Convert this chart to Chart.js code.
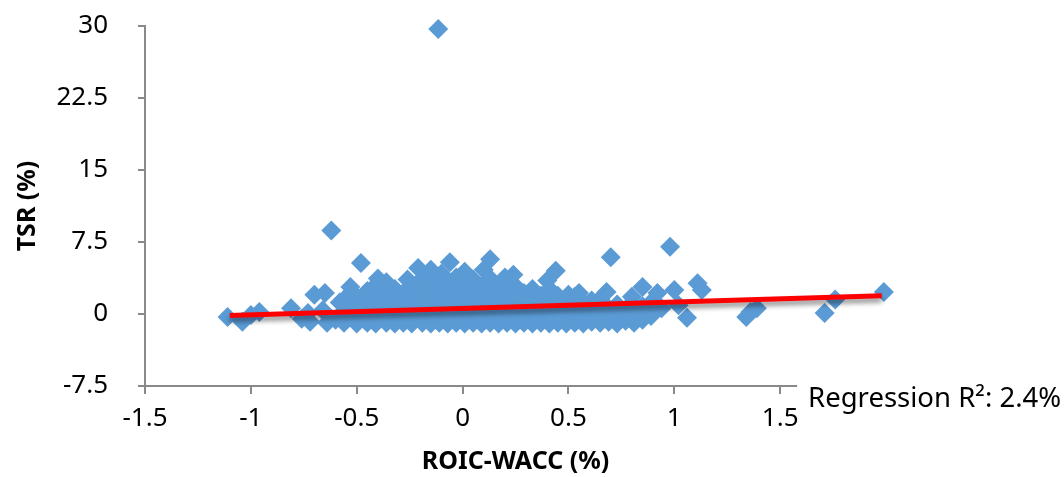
<!DOCTYPE html>
<html>
<head>
<meta charset="utf-8">
<script src="https://cdn.jsdelivr.net/npm/chart.js@4.4.0/dist/chart.umd.min.js"></script>
<style>
  body { margin: 0; background: #fff; }
</style>
</head>
<body>
<canvas id="scatter-chart" width="1064" height="477"></canvas>
<script>
// tick labels
var xTicks = [-1.5, -1, -0.5, 0, 0.5, 1, 1.5];
var yTicks = [-7.5, 0, 7.5, 15, 22.5, 30];

// [ROIC-WACC, TSR] per company
var companies = [
  [-1.11, -0.3], [-1.04, -0.8], [-1.00, -0.1], [-0.96, 0.2], [-0.81, 0.6], [-0.76, -0.5],
  [-0.73, 0.1], [-0.72, -0.8], [-0.70, 2.0], [-0.66, 0.4], [-0.65, 2.2], [-0.62, 8.7],
  [-0.64, -0.9], [-0.60, -0.6], [-0.58, 1.2],
  [-0.56, -0.9], [-0.56, 0.3], [-0.56, 1.5], [-0.53, 2.8],
  [-0.50, -1.0], [-0.50, 0.5], [-0.50, 1.8], [-0.48, 5.3],
  [-0.45, -0.9], [-0.45, 0.8], [-0.45, 2.4],
  [-0.41, -1.0], [-0.41, 0.4], [-0.41, 1.6], [-0.41, 3.0], [-0.40, 3.7],
  [-0.36, -0.9], [-0.36, 0.6], [-0.36, 2.0], [-0.36, 3.3],
  [-0.32, -1.0], [-0.32, 0.2], [-0.32, 1.4], [-0.32, 2.6],
  [-0.28, -0.9], [-0.28, 0.8], [-0.28, 2.2], [-0.26, 3.6],
  [-0.24, -1.0], [-0.24, 0.4], [-0.24, 1.6], [-0.24, 2.9], [-0.21, 4.8],
  [-0.19, -0.9], [-0.19, 0.9], [-0.19, 2.3], [-0.19, 3.7],
  [-0.15, -1.0], [-0.15, 0.3], [-0.15, 1.6], [-0.15, 3.0], [-0.15, 4.6],
  [-0.11, -0.9], [-0.11, 0.8], [-0.11, 2.2], [-0.11, 3.6], [-0.10, 4.2],
  [-0.07, -1.0], [-0.07, 0.4], [-0.07, 1.6], [-0.07, 2.9], [-0.06, 5.4],
  [-0.03, -0.9], [-0.03, 0.9], [-0.03, 2.3], [-0.03, 3.8],
  [0.01, -1.0], [0.01, 0.3], [0.01, 1.6], [0.01, 3.0], [0.01, 4.4],
  [0.05, -0.9], [0.05, 0.8], [0.05, 2.2], [0.05, 3.6],
  [0.09, -1.0], [0.09, 0.4], [0.09, 1.6], [0.09, 2.9], [0.10, 4.6],
  [0.13, -0.9], [0.13, 0.9], [0.13, 2.3], [0.13, 3.7], [0.13, 5.7],
  [0.17, -1.0], [0.17, 0.3], [0.17, 1.6], [0.17, 3.0], [0.20, 3.8],
  [0.21, -0.9], [0.21, 0.8], [0.21, 2.2], [0.24, 4.1],
  [0.25, -1.0], [0.25, 0.4], [0.25, 1.6], [0.25, 2.9],
  [0.29, -0.9], [0.29, 0.9], [0.29, 2.2],
  [0.33, -1.0], [0.33, 0.3], [0.33, 1.5], [0.33, 2.6],
  [0.37, -0.9], [0.37, 0.7], [0.37, 1.9], [0.40, 3.5],
  [0.41, -1.0], [0.41, 0.3], [0.41, 1.4], [0.41, 2.6], [0.44, 4.5],
  [0.45, -0.9], [0.45, 0.7], [0.45, 1.9],
  [0.49, -1.0], [0.49, 0.2], [0.49, 1.3], [0.50, 2.0],
  [0.53, -0.9], [0.53, 0.6], [0.53, 1.8], [0.55, 2.2],
  [0.57, -1.0], [0.57, 0.2], [0.57, 1.2],
  [0.61, -0.8], [0.61, 0.5], [0.61, 1.4],
  [0.65, -0.9], [0.65, 0.3], [0.65, 1.6], [0.68, 2.3], [0.70, 5.9],
  [0.69, -0.8], [0.69, 0.6],
  [0.73, -1.0], [0.73, 0.3], [0.73, 1.0],
  [0.77, -0.7], [0.77, 0.5], [0.80, 1.8],
  [0.81, -0.9], [0.81, 0.2], [0.81, 0.9], [0.85, 2.8],
  [0.85, -0.6], [0.85, 0.8], [0.89, -0.2], [0.89, 1.2],
  [0.92, 2.2], [0.94, 0.6], [0.98, 7.0], [1.00, 2.5], [1.02, 0.9],
  [1.06, -0.4], [1.11, 3.2], [1.13, 2.5],
  [1.34, -0.3], [1.36, 0.2], [1.39, 0.6],
  [1.71, 0.1], [1.76, 1.5], [1.99, 2.3],
  [-0.115, 29.7],
  // companies packed between the rows above
  [-0.54, -0.3], [-0.54, 1.0], [-0.47, -0.3], [-0.47, 1.2], [-0.43, 2.0],
  [-0.39, -0.3], [-0.39, 1.0], [-0.38, 2.4], [-0.34, -0.3], [-0.34, 1.2],
  [-0.30, -0.3], [-0.30, 1.6], [-0.26, -0.3], [-0.26, 1.2], [-0.22, -0.3],
  [-0.22, 2.0], [-0.17, -0.3], [-0.17, 1.2], [-0.17, 2.6], [-0.13, -0.3],
  [-0.13, 1.4], [-0.09, -0.3], [-0.09, 1.2], [-0.09, 3.3], [-0.05, -0.3],
  [-0.05, 1.6], [-0.01, -0.3], [-0.01, 1.2], [-0.01, 2.6], [0.03, -0.3],
  [0.03, 1.5], [0.03, 3.2], [0.07, -0.3], [0.07, 1.2], [0.11, -0.3],
  [0.11, 1.5], [0.11, 3.3], [0.15, -0.3], [0.15, 1.2], [0.19, -0.3],
  [0.19, 1.5], [0.19, 2.6], [0.23, -0.3], [0.23, 1.2], [0.27, -0.3],
  [0.27, 1.5], [0.31, -0.3], [0.31, 1.2], [0.35, -0.3], [0.35, 1.3],
  [0.39, -0.3], [0.39, 1.0], [0.43, -0.3], [0.43, 1.2], [0.47, -0.3],
  [0.47, 1.0], [0.51, -0.3], [0.55, -0.3], [0.55, 1.0], [0.59, -0.3],
  [0.63, -0.3], [0.63, 0.9], [0.67, -0.3], [0.71, -0.3], [0.75, -0.3],
  [0.79, -0.3]
];

// fitted line end points
var regressionX = [-1.10, 1.98];
var regressionY = [-0.15, 1.90];
var rSquaredLabel = 'Regression R\u00b2: 2.4%';

var axisGrey = '#898989';
var fontName = "'Noto Sans', sans-serif";

var extras = {
  id: 'extras',
  beforeDatasetsDraw: function(chart) {
    // the x axis line stops just after the last tick
    var ctx = chart.ctx, xs = chart.scales.x, ys = chart.scales.y;
    ctx.save();
    ctx.strokeStyle = axisGrey;
    ctx.lineWidth = 2;
    ctx.beginPath();
    ctx.moveTo(xs.getPixelForValue(-1.5) - 1, ys.bottom);
    ctx.lineTo(xs.getPixelForValue(1.58), ys.bottom);
    ctx.stroke();
    ctx.restore();
  },
  beforeDatasetDraw: function(chart, args) {
    if (args.index === 0) {
      chart.ctx.save();
      chart.ctx.shadowColor = 'rgba(0,0,0,0.45)';
      chart.ctx.shadowBlur = 5;
      chart.ctx.shadowOffsetY = 4;
    }
  },
  afterDatasetDraw: function(chart, args) {
    if (args.index === 0) chart.ctx.restore();
  },
  afterDraw: function(chart) {
    var ctx = chart.ctx, xs = chart.scales.x, ys = chart.scales.y;
    ctx.save();
    ctx.font = "27.5px " + fontName;
    ctx.fillStyle = '#000';
    ctx.textBaseline = 'middle';
    ctx.fillText(rSquaredLabel, xs.getPixelForValue(1.58) + 11, ys.bottom + 13);
    ctx.restore();
  }
};

new Chart(document.getElementById('scatter-chart'), {
  type: 'scatter',
  data: {
    datasets: [
      {
        type: 'line',
        label: 'Regression',
        data: regressionX.map(function(x, i) { return { x: x, y: regressionY[i] }; }),
        borderColor: '#ff0000',
        borderWidth: 5,
        pointRadius: 0,
        fill: false
      },
      {
        label: 'Companies',
        data: companies.map(function(p) { return { x: p[0], y: p[1] }; }),
        backgroundColor: '#5b9bd5',
        pointStyle: 'rectRot',
        pointRadius: 10,
        pointBorderWidth: 0,
        clip: false
      }
    ]
  },
  options: {
    responsive: false,
    animation: false,
    events: [],
    layout: { padding: { top: 26, right: 178, bottom: 0, left: 0 } },
    plugins: { legend: { display: false }, tooltip: { enabled: false } },
    scales: {
      x: {
        type: 'linear',
        min: -1.5,
        max: 2.0,
        afterBuildTicks: function(scale) {
          scale.ticks = xTicks.map(function(v) { return { value: v }; });
        },
        afterFit: function(scale) { scale.height = 91; },
        border: { display: false },
        grid: { drawOnChartArea: false, drawTicks: true, tickLength: 8, color: axisGrey, lineWidth: 2 },
        ticks: {
          padding: 9,
          color: '#000',
          font: { family: fontName, size: 26 },
          callback: function(v) { return String(v); }
        },
        title: {
          display: true,
          text: 'ROIC-WACC (%)',
          color: '#000',
          font: { family: fontName, size: 25, weight: 'bold' },
          padding: { top: 0, bottom: 0 }
        }
      },
      y: {
        min: -7.5,
        max: 30,
        afterBuildTicks: function(scale) {
          scale.ticks = yTicks.map(function(v) { return { value: v }; });
        },
        afterFit: function(scale) {
          scale.width = 145;
          // the wide label gap should not push the plot down
          scale.paddingTop = 0;
          scale.paddingBottom = 0;
        },
        border: { color: axisGrey, width: 2 },
        grid: { drawOnChartArea: false, drawTicks: true, tickLength: 7, color: axisGrey, lineWidth: 2 },
        ticks: {
          padding: 30,
          color: '#000',
          font: { family: fontName, size: 26 },
          callback: function(v) { return String(v); }
        },
        title: {
          display: true,
          text: 'TSR (%)',
          color: '#000',
          font: { family: fontName, size: 25, weight: 'bold' },
          padding: { top: 13, bottom: 0 }
        }
      }
    }
  },
  plugins: [extras]
});
</script>
</body>
</html>
